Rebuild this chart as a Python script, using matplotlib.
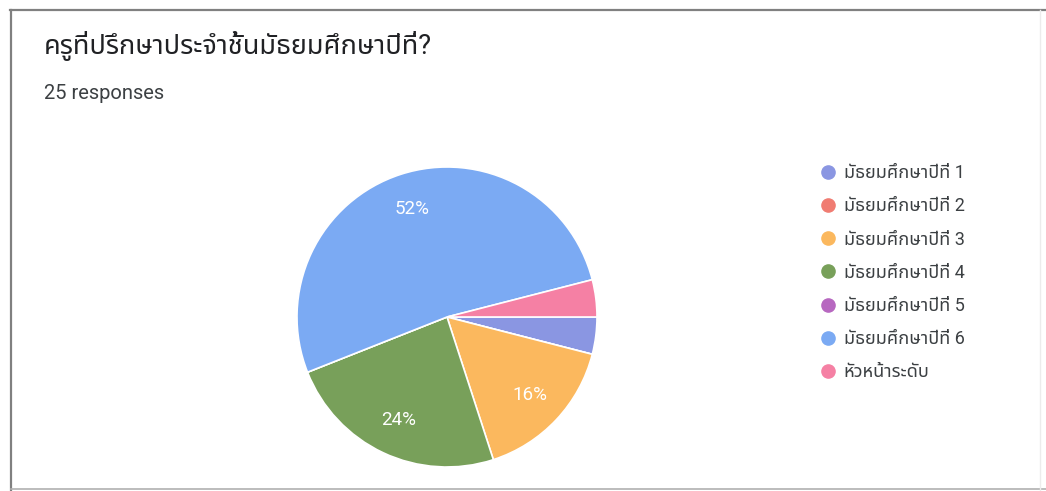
import matplotlib
matplotlib.use("Agg")
import matplotlib.pyplot as plt
from matplotlib import font_manager as fm
from matplotlib.lines import Line2D

# ---- data ----
title = "ครูที่ปรึกษาประจำชั้นมัธยมศึกษาปีที่?"
subtitle = "25 responses"
categories = ["มัธยมศึกษาปีที่ 1", "มัธยมศึกษาปีที่ 2", "มัธยมศึกษาปีที่ 3",
              "มัธยมศึกษาปีที่ 4", "มัธยมศึกษาปีที่ 5", "มัธยมศึกษาปีที่ 6",
              "หัวหน้าระดับ"]
counts = [1, 0, 4, 6, 0, 13, 1]
colors = ["#8a96e2", "#f07c72", "#fbb85e", "#78a05a", "#b768c0", "#7baaf3", "#f580a4"]

# ---- fonts ----
names = {f.name for f in fm.fontManager.ttflist}
thai = next((n for n in ["Noto Sans Thai", "Noto Sans Thai UI", "Sarabun", "Prompt",
                         "Kanit", "Athiti", "Bai Jamjuree"] if n in names), "DejaVu Sans")
fam = ["Roboto", thai, "DejaVu Sans"]
plt.rcParams["font.family"] = fam

W, H = 1046, 491
fig = plt.figure(figsize=(W / 100, H / 100), dpi=100)
fig.patch.set_facecolor("white")

# frame lines
fig.add_artist(Line2D([10 / W, 1.0], [1 - 10 / H, 1 - 10 / H], color="#808080", lw=1.6))
fig.add_artist(Line2D([11 / W, 11 / W], [0, 1 - 10 / H], color="#808080", lw=1.6))
fig.add_artist(Line2D([11 / W, 1.0], [2 / H, 2 / H], color="#b0b0b0", lw=1.2))
fig.add_artist(Line2D([1040 / W, 1040 / W], [0, 1 - 10 / H], color="#ececec", lw=1.0))

# titles
fig.text(44 / W, 1 - 46 / H, title, fontsize=19.5, color="#202124", va="center", ha="left")
fig.text(44 / W, 1 - 94 / H, subtitle, fontsize=14.5, color="#3c4043", va="center", ha="left")

# pie
cx, cy, r = 447, 317, 150
ax = fig.add_axes([(cx - r) / W, (H - cy - r) / H, 2 * r / W, 2 * r / H])

def fmt(p):
    return f"{p:.0f}%" if p >= 10 else ""

wedges, texts, autotexts = ax.pie(
    counts, colors=colors, startangle=0, counterclock=False,
    autopct=fmt, pctdistance=0.76,
    wedgeprops=dict(edgecolor="white", linewidth=1.2),
    textprops=dict(color="white", fontsize=13.5))
ax.set_xlim(-1, 1)
ax.set_ylim(-1, 1)
ax.set_aspect("equal")
ax.axis("off")

# legend
handles = [Line2D([], [], marker="o", linestyle="none", markersize=9.5,
                  markerfacecolor=c, markeredgecolor=c) for c in colors]
leg = fig.legend(handles, categories, loc="upper left",
                 bbox_to_anchor=(812 / W, 1 - 157 / H), frameon=False,
                 fontsize=13, labelspacing=0.84, handletextpad=0.35,
                 handlelength=1.0, borderaxespad=0)
for t in leg.get_texts():
    t.set_color("#3c4043")

fig.savefig("out.png", dpi=100, facecolor="white")
